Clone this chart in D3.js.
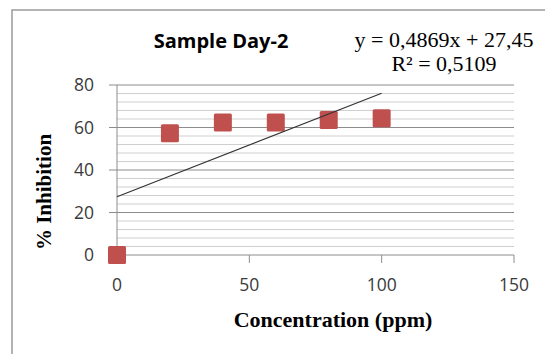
<!DOCTYPE html>
<html lang="en">
<head>
  <meta charset="UTF-8">
  <title>Sample Day-2</title>
  <script src="https://d3js.org/d3.v7.min.js"></script>
  <style>
    html, body { margin: 0; background: #fff; }
    svg { display: block; }
    .tick-label { font-family: "Open Sans", sans-serif; font-size: 17.5px; fill: #3a3a3a; }
    .serif { font-family: "Liberation Serif", "Times New Roman", serif; fill: #000; }
  </style>
</head>
<body>
<svg id="chart" width="545" height="354"></svg>
<script>
  // data
  const concentration = [0, 20, 40, 60, 80, 100];
  const inhibition = [0, 57.3, 62.4, 62.3, 63.5, 64.3];
  const trendSlope = 0.4869;
  const trendIntercept = 27.45;
  const trendRange = [0, 100];
  const xTicks = [0, 50, 100, 150];
  const yTicks = [0, 20, 40, 60, 80];
  const yMinorTicks = d3.range(0, 81, 4);

  const svg = d3.select("#chart");
  const x = d3.scaleLinear().domain([0, 150]).range([117, 514]);
  const y = d3.scaleLinear().domain([0, 80]).range([255, 85]);

  // chart border (continues past right / bottom edge)
  svg.append("rect")
    .attr("x", 12).attr("y", 10)
    .attr("width", 600).attr("height", 400)
    .attr("fill", "none")
    .attr("stroke", "#9a9a9a")
    .attr("stroke-width", 1.5);

  // minor gridlines
  svg.append("g").selectAll("line")
    .data(yMinorTicks.filter(v => v % 20 !== 0))
    .join("line")
    .attr("x1", x(0)).attr("x2", x(150))
    .attr("y1", d => y(d)).attr("y2", d => y(d))
    .attr("stroke", "#cfcfcf");

  // major gridlines + outward ticks
  svg.append("g").selectAll("line")
    .data(yTicks)
    .join("line")
    .attr("x1", x(0) - 8).attr("x2", x(150))
    .attr("y1", d => y(d)).attr("y2", d => y(d))
    .attr("stroke", "#8c8c8c");

  // y axis line
  svg.append("line")
    .attr("x1", x(0)).attr("x2", x(0))
    .attr("y1", y(0)).attr("y2", y(80))
    .attr("stroke", "#8c8c8c");

  // x ticks
  svg.append("g").selectAll("line")
    .data(xTicks)
    .join("line")
    .attr("x1", d => x(d)).attr("x2", d => x(d))
    .attr("y1", y(0)).attr("y2", y(0) + 8)
    .attr("stroke", "#8c8c8c");

  svg.append("g").selectAll("text")
    .data(yTicks)
    .join("text")
    .attr("class", "tick-label")
    .attr("x", 94)
    .attr("y", d => y(d))
    .attr("dy", "0.36em")
    .attr("text-anchor", "end")
    .text(d => d);

  svg.append("g").selectAll("text")
    .data(xTicks)
    .join("text")
    .attr("class", "tick-label")
    .attr("x", d => x(d))
    .attr("y", 291)
    .attr("text-anchor", "middle")
    .text(d => d);

  // markers
  const size = 18;
  svg.append("g").selectAll("rect")
    .data(concentration.map((c, i) => [c, inhibition[i]]))
    .join("rect")
    .attr("x", d => x(d[0]) - size / 2)
    .attr("y", d => y(d[1]) - size / 2)
    .attr("width", size).attr("height", size)
    .attr("rx", 1.5)
    .attr("fill", "#c0504d");

  // linear trendline
  const line = d3.line().x(d => x(d)).y(d => y(trendSlope * d + trendIntercept));
  svg.append("path")
    .attr("d", line(trendRange))
    .attr("fill", "none")
    .attr("stroke", "#333")
    .attr("stroke-width", 1.1);

  // title
  svg.append("text")
    .attr("x", 221).attr("y", 48)
    .attr("text-anchor", "middle")
    .style("font-family", "'Open Sans', sans-serif")
    .style("font-weight", "bold")
    .style("font-size", "20px")
    .text("Sample Day-2");

  // trendline equation
  svg.append("text")
    .attr("class", "serif")
    .attr("x", 444).attr("y", 47)
    .attr("text-anchor", "middle")
    .style("font-size", "22px")
    .text(`y = ${String(trendSlope).replace(".", ",")}x + ${String(trendIntercept).replace(".", ",")}`);

  svg.append("text")
    .attr("class", "serif")
    .attr("x", 444).attr("y", 71)
    .attr("text-anchor", "middle")
    .style("font-size", "22px")
    .text("R² = 0,5109");

  // axis titles
  svg.append("text")
    .attr("class", "serif")
    .attr("x", 333).attr("y", 327)
    .attr("text-anchor", "middle")
    .style("font-weight", "bold")
    .style("font-size", "22px")
    .text("Concentration (ppm)");

  svg.append("text")
    .attr("class", "serif")
    .attr("transform", "translate(51,192) rotate(-90)")
    .attr("text-anchor", "middle")
    .style("font-weight", "bold")
    .style("font-size", "21px")
    .text("% Inhibition");
</script>
</body>
</html>
